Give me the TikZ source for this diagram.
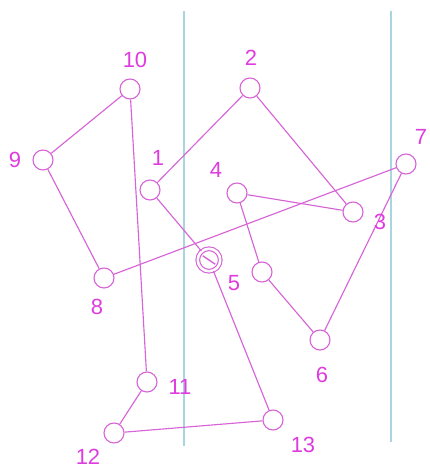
\documentclass[tikz,border=0pt]{standalone}
\usepackage{fontspec}
\setmainfont{Liberation Sans}
\definecolor{pinkline}{RGB}{214, 100, 214}
\definecolor{pinktext}{RGB}{222, 60, 222}
\definecolor{guidecyan}{RGB}{168, 214, 224}

\begin{document}
\begin{tikzpicture}[x=0.02cm, y=-0.02cm, line width=0.65pt]
    \tikzset{
        pt/.style={circle, draw=pinkline, fill=white, minimum size=0.4cm, inner sep=0pt},
        lbl/.style={text=pinktext, font=\fontsize{12.5}{14}\selectfont, inner sep=0pt},
        edge/.style={draw=pinkline}
    }
    \useasboundingbox (0,0) rectangle (430,468);

    % guide lines
    \coordinate (ga) at (184,11);
    \coordinate (gb) at (184,446);
    \coordinate (gc) at (391,11);
    \coordinate (gd) at (391,442);
    \draw[guidecyan, line width=0.8pt] (ga) -- (gb);
    \draw[guidecyan, line width=0.8pt] (gc) -- (gd);

    % points
    \node[pt] (n1) at (150,190) {};
    \node[pt] (n2) at (250,88) {};
    \node[pt] (n3) at (353,212) {};
    \node[pt] (n4) at (237,193) {};
    \node[pt, minimum size=0.45cm, double=white, double distance=0.05cm, draw=pinkline] (n5) at (209,260) {};
    \node[pt] (nx) at (262,272) {};
    \node[pt] (n6) at (320,340) {};
    \node[pt] (n7) at (406,164) {};
    \node[pt] (n8) at (104,278) {};
    \node[pt] (n9) at (43,160) {};
    \node[pt] (n10) at (130,89) {};
    \node[pt] (n11) at (147,382) {};
    \node[pt] (n12) at (114,433) {};
    \node[pt] (n13) at (273,420) {};

    % slash in 5
    \draw[pinkline, line width=0.8pt] (n5.center) ++(214:7.5) -- ++(34:15);

    % edges
    \draw[edge] (n1) -- (n2);
    \draw[edge] (n2) -- (n3);
    \draw[edge] (n3) -- (n4);
    \draw[edge] (n4) -- (nx);
    \draw[edge] (nx) -- (n6);
    \draw[edge] (n6) -- (n7);
    \draw[edge] (n7) -- (n8);
    \draw[edge] (n8) -- (n9);
    \draw[edge] (n9) -- (n10);
    \draw[edge] (n10) -- (n11);
    \draw[edge] (n11) -- (n12);
    \draw[edge] (n12) -- (n13);
    \draw[edge] (n13) -- (n5);
    \draw[edge] (n5) -- (n1);

    % labels
    \node[lbl] (l1) at (158,158) {1};
    \node[lbl] (l2) at (251,58) {2};
    \node[lbl] (l3) at (380,222) {3};
    \node[lbl] (l4) at (216,170) {4};
    \node[lbl] (l5) at (234,283) {5};
    \node[lbl] (l6) at (322,375) {6};
    \node[lbl] (l7) at (421,137) {7};
    \node[lbl] (l8) at (97,307) {8};
    \node[lbl] (l9) at (15,160) {9};
    \node[lbl] (l10) at (135,60) {10};
    \node[lbl] (l11) at (180,387) {11};
    \node[lbl] (l12) at (88,457) {12};
    \node[lbl] (l13) at (303,445) {13};
\end{tikzpicture}
\end{document}
